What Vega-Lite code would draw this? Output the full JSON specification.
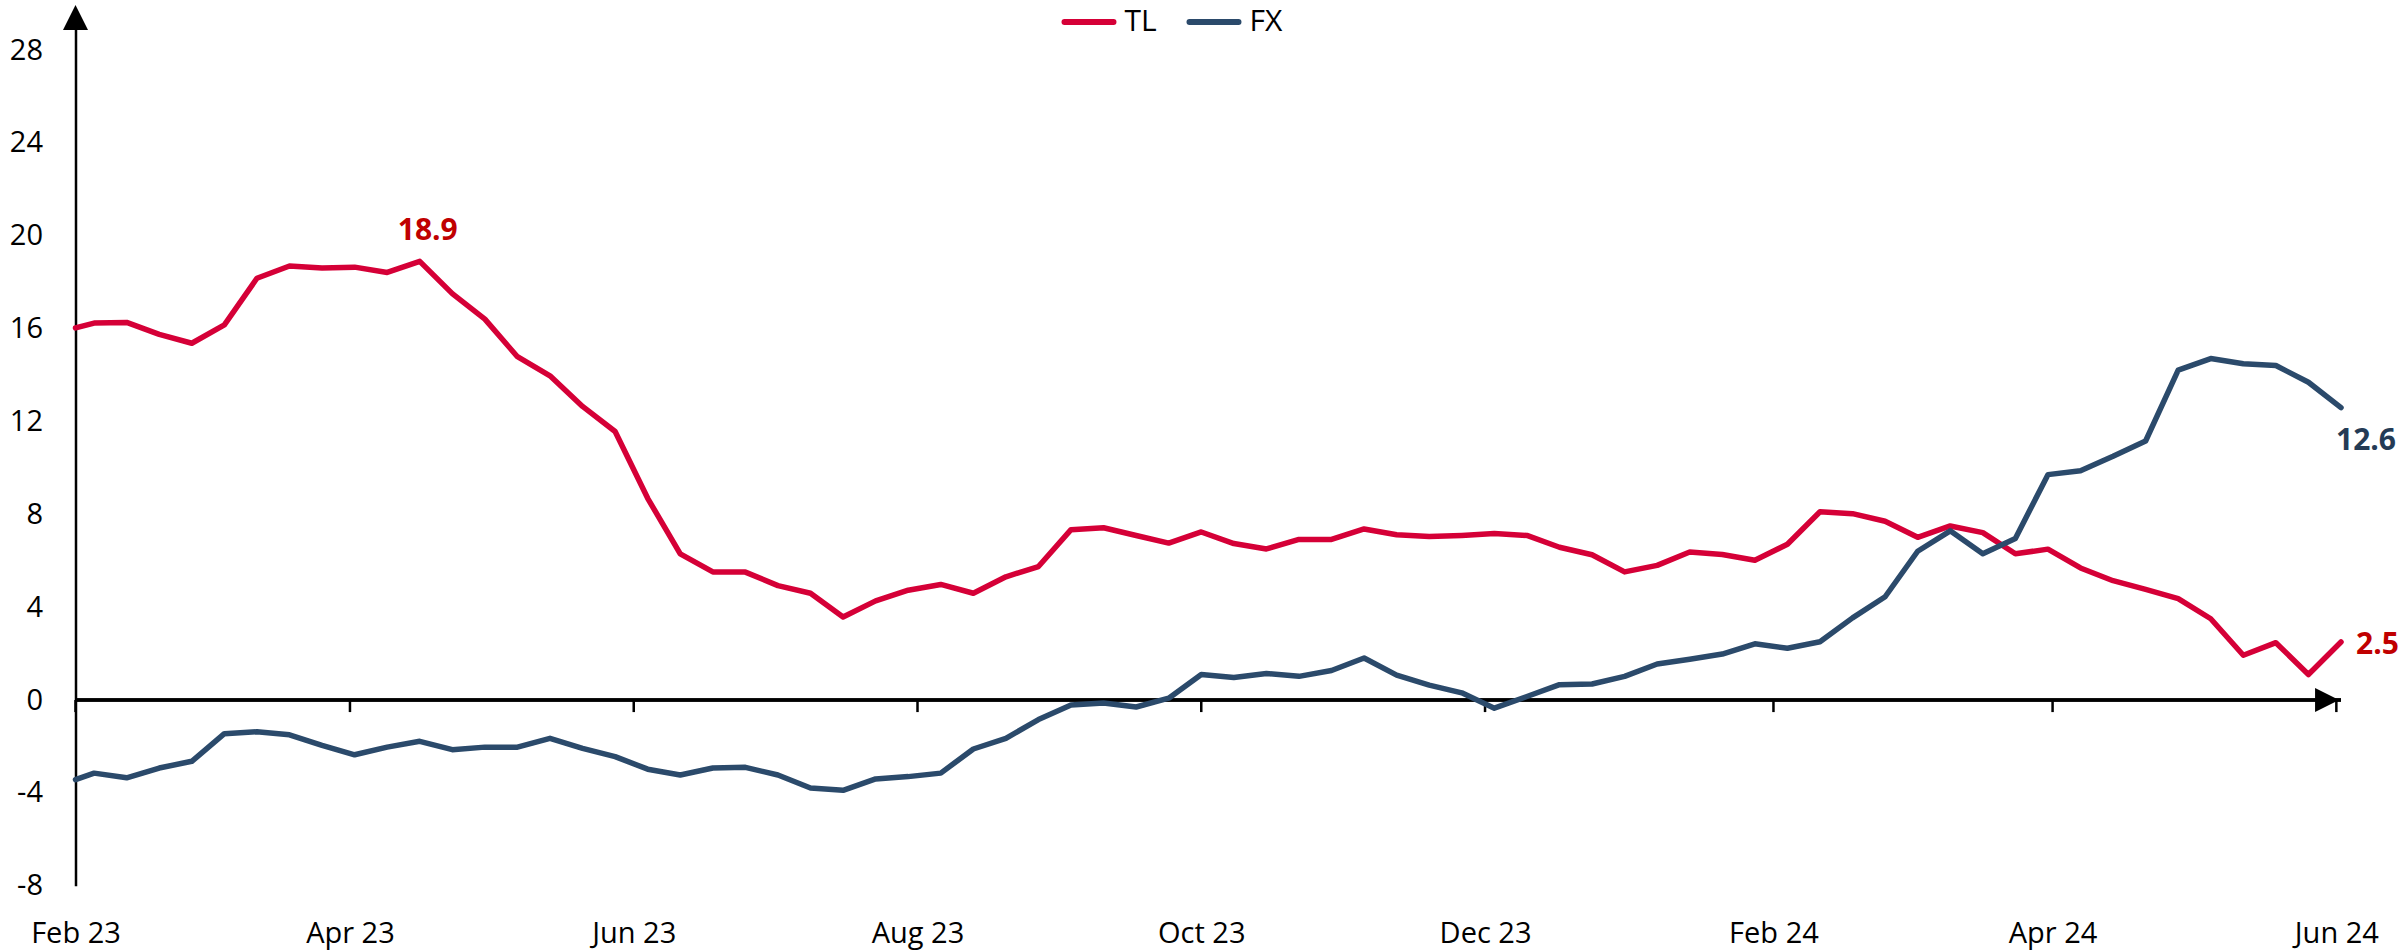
{
  "$schema": "https://vega.github.io/schema/vega-lite/v6.json",
  "width": 2265.5,
  "height": 870.4,
  "autosize": {"type": "none"},
  "padding": {"left": 75.5, "top": 15.3, "right": 59, "bottom": 65.3},
  "background": "white",
  "config": {"view": {"stroke": null}, "font": "Open Sans"},
  "datasets": {
    "series": [
      {"date": "2023-02-01", "TL": 16.03, "FX": -3.43},
      {"date": "2023-02-05", "TL": 16.24, "FX": -3.15},
      {"date": "2023-02-12", "TL": 16.27, "FX": -3.35},
      {"date": "2023-02-19", "TL": 15.75, "FX": -2.93},
      {"date": "2023-02-26", "TL": 15.37, "FX": -2.64},
      {"date": "2023-03-05", "TL": 16.16, "FX": -1.45},
      {"date": "2023-03-12", "TL": 18.17, "FX": -1.37},
      {"date": "2023-03-19", "TL": 18.70, "FX": -1.50},
      {"date": "2023-03-26", "TL": 18.61, "FX": -1.95},
      {"date": "2023-04-02", "TL": 18.65, "FX": -2.36},
      {"date": "2023-04-09", "TL": 18.42, "FX": -2.03},
      {"date": "2023-04-16", "TL": 18.9, "FX": -1.78},
      {"date": "2023-04-23", "TL": 17.51, "FX": -2.14},
      {"date": "2023-04-30", "TL": 16.41, "FX": -2.03},
      {"date": "2023-05-07", "TL": 14.79, "FX": -2.03},
      {"date": "2023-05-14", "TL": 13.97, "FX": -1.65},
      {"date": "2023-05-21", "TL": 12.65, "FX": -2.08},
      {"date": "2023-05-28", "TL": 11.57, "FX": -2.44},
      {"date": "2023-06-04", "TL": 8.69, "FX": -2.98},
      {"date": "2023-06-11", "TL": 6.30, "FX": -3.23},
      {"date": "2023-06-18", "TL": 5.52, "FX": -2.93},
      {"date": "2023-06-25", "TL": 5.51, "FX": -2.90},
      {"date": "2023-07-02", "TL": 4.93, "FX": -3.23},
      {"date": "2023-07-09", "TL": 4.60, "FX": -3.79},
      {"date": "2023-07-16", "TL": 3.58, "FX": -3.89},
      {"date": "2023-07-23", "TL": 4.27, "FX": -3.40},
      {"date": "2023-07-30", "TL": 4.73, "FX": -3.30},
      {"date": "2023-08-06", "TL": 4.98, "FX": -3.15},
      {"date": "2023-08-13", "TL": 4.60, "FX": -2.11},
      {"date": "2023-08-20", "TL": 5.31, "FX": -1.65},
      {"date": "2023-08-27", "TL": 5.75, "FX": -0.84},
      {"date": "2023-09-03", "TL": 7.34, "FX": -0.21},
      {"date": "2023-09-10", "TL": 7.42, "FX": -0.13},
      {"date": "2023-09-17", "TL": 7.09, "FX": -0.30},
      {"date": "2023-09-24", "TL": 6.76, "FX": 0.08},
      {"date": "2023-10-01", "TL": 7.24, "FX": 1.10},
      {"date": "2023-10-08", "TL": 6.74, "FX": 0.97},
      {"date": "2023-10-15", "TL": 6.51, "FX": 1.14},
      {"date": "2023-10-22", "TL": 6.92, "FX": 1.02},
      {"date": "2023-10-29", "TL": 6.92, "FX": 1.27},
      {"date": "2023-11-05", "TL": 7.37, "FX": 1.81},
      {"date": "2023-11-12", "TL": 7.12, "FX": 1.07},
      {"date": "2023-11-19", "TL": 7.04, "FX": 0.64},
      {"date": "2023-11-26", "TL": 7.09, "FX": 0.31},
      {"date": "2023-12-03", "TL": 7.17, "FX": -0.35},
      {"date": "2023-12-10", "TL": 7.09, "FX": 0.15},
      {"date": "2023-12-17", "TL": 6.58, "FX": 0.66},
      {"date": "2023-12-24", "TL": 6.26, "FX": 0.69},
      {"date": "2023-12-31", "TL": 5.52, "FX": 1.02},
      {"date": "2024-01-07", "TL": 5.80, "FX": 1.55},
      {"date": "2024-01-14", "TL": 6.38, "FX": 1.76},
      {"date": "2024-01-21", "TL": 6.27, "FX": 1.98},
      {"date": "2024-01-28", "TL": 6.02, "FX": 2.42},
      {"date": "2024-02-04", "TL": 6.71, "FX": 2.23},
      {"date": "2024-02-11", "TL": 8.11, "FX": 2.51},
      {"date": "2024-02-18", "TL": 8.03, "FX": 3.54},
      {"date": "2024-02-25", "TL": 7.70, "FX": 4.45},
      {"date": "2024-03-03", "TL": 7.01, "FX": 6.41},
      {"date": "2024-03-10", "TL": 7.50, "FX": 7.29},
      {"date": "2024-03-17", "TL": 7.21, "FX": 6.30},
      {"date": "2024-03-24", "TL": 6.30, "FX": 6.96},
      {"date": "2024-03-31", "TL": 6.50, "FX": 9.71},
      {"date": "2024-04-07", "TL": 5.69, "FX": 9.88},
      {"date": "2024-04-14", "TL": 5.14, "FX": 10.50},
      {"date": "2024-04-21", "TL": 4.77, "FX": 11.16},
      {"date": "2024-04-28", "TL": 4.37, "FX": 14.21},
      {"date": "2024-05-05", "TL": 3.50, "FX": 14.71},
      {"date": "2024-05-12", "TL": 1.93, "FX": 14.49},
      {"date": "2024-05-19", "TL": 2.47, "FX": 14.41},
      {"date": "2024-05-26", "TL": 1.10, "FX": 13.69},
      {"date": "2024-06-02", "TL": 2.5, "FX": 12.6}
    ],
    "ticks": [
      {"date": "2023-02-01"}, {"date": "2023-04-01"}, {"date": "2023-06-01"},
      {"date": "2023-08-01"}, {"date": "2023-10-01"}, {"date": "2023-12-01"},
      {"date": "2024-02-01"}, {"date": "2024-04-01"}, {"date": "2024-06-01"}
    ],
    "labels": [
      {"date": "2023-04-16", "series": "TL", "value": 18.9, "kind": "peak"},
      {"date": "2024-06-02", "series": "TL", "value": 2.5, "kind": "end"},
      {"date": "2024-06-02", "series": "FX", "value": 12.6, "kind": "end"}
    ],
    "arrows": [
      {"date": "2024-05-30", "value": 0, "dir": "right"},
      {"date": "2023-02-01", "value": 29.4, "dir": "up"}
    ]
  },
  "layer": [
    {
      "data": {"name": "ticks"},
      "mark": {"type": "rule", "color": "#000000", "strokeWidth": 2.5},
      "encoding": {
        "y": {"datum": 0, "type": "quantitative"}
      }
    },
    {
      "data": {"name": "ticks"},
      "mark": {"type": "rule", "color": "#000000", "strokeWidth": 2.5},
      "encoding": {
        "x": {"field": "date", "type": "temporal"},
        "y": {"datum": 0, "type": "quantitative"},
        "y2": {"datum": -0.52}
      }
    },
    {
      "data": {"name": "series"},
      "transform": [{"fold": ["TL", "FX"], "as": ["series", "value"]}],
      "mark": {"type": "line", "strokeWidth": 5.5, "strokeCap": "round", "strokeJoin": "round"},
      "encoding": {
        "x": {
          "field": "date",
          "type": "temporal",
          "scale": {
            "type": "utc",
            "domain": [
              {"year": 2023, "month": 2, "date": 1, "utc": true},
              {"year": 2024, "month": 6, "date": 2, "utc": true}
            ]
          },
          "axis": {
            "title": null,
            "format": "%b %y",
            "values": [
              {"year": 2023, "month": 2, "date": 1, "utc": true},
              {"year": 2023, "month": 4, "date": 1, "utc": true},
              {"year": 2023, "month": 6, "date": 1, "utc": true},
              {"year": 2023, "month": 8, "date": 1, "utc": true},
              {"year": 2023, "month": 10, "date": 1, "utc": true},
              {"year": 2023, "month": 12, "date": 1, "utc": true},
              {"year": 2024, "month": 2, "date": 1, "utc": true},
              {"year": 2024, "month": 4, "date": 1, "utc": true},
              {"year": 2024, "month": 6, "date": 1, "utc": true}
            ],
            "domain": false,
            "ticks": false,
            "tickSize": 0,
            "grid": false,
            "labelPadding": 34,
            "labelFontSize": 29,
            "labelFont": "Open Sans",
            "labelColor": "#000000",
            "labelFlush": false,
            "labelOverlap": false,
            "labelBound": false
          }
        },
        "y": {
          "field": "value",
          "type": "quantitative",
          "scale": {"domain": [-8, 29.5], "nice": false, "zero": false},
          "axis": {
            "title": null,
            "values": [-8, -4, 0, 4, 8, 12, 16, 20, 24, 28],
            "labelExpr": "datum.value < 0 ? '-' + abs(datum.value) : '' + datum.value",
            "domain": true,
            "domainColor": "#000000",
            "domainWidth": 2.5,
            "ticks": false,
            "tickSize": 0,
            "grid": false,
            "labelPadding": 33,
            "labelFontSize": 29,
            "labelFont": "Open Sans",
            "labelColor": "#000000"
          }
        },
        "color": {
          "field": "series",
          "type": "nominal",
          "scale": {"domain": ["TL", "FX"], "range": ["#D50037", "#2B4A6B"]},
          "sort": ["TL", "FX"],
          "legend": {
            "title": null,
            "orient": "none",
            "direction": "horizontal",
            "legendX": 986,
            "legendY": -21,
            "padding": 0,
            "symbolType": "stroke",
            "symbolSize": 2400,
            "symbolStrokeWidth": 6,
            "labelFontSize": 30,
            "labelFont": "Open Sans",
            "labelColor": "#000000",
            "labelOffset": 8,
            "columnPadding": 20,
            "encode": {"symbols": {"update": {"strokeCap": {"value": "round"}}}}
          }
        }
      }
    },
    {
      "data": {"name": "labels"},
      "transform": [{"filter": "datum.kind === 'peak'"}],
      "mark": {"type": "text", "font": "Open Sans", "fontWeight": "bold", "fontSize": 30, "color": "#C00000", "align": "center", "baseline": "alphabetic", "dx": 8, "dy": -21},
      "encoding": {
        "x": {"field": "date", "type": "temporal"},
        "y": {"field": "value", "type": "quantitative"},
        "text": {"field": "value", "type": "quantitative", "format": ".1f"}
      }
    },
    {
      "data": {"name": "labels"},
      "transform": [{"filter": "datum.kind === 'end' && datum.series === 'TL'"}],
      "mark": {"type": "text", "font": "Open Sans", "fontWeight": "bold", "fontSize": 30, "color": "#C00000", "align": "left", "baseline": "alphabetic", "dx": 15, "dy": 12},
      "encoding": {
        "x": {"field": "date", "type": "temporal"},
        "y": {"field": "value", "type": "quantitative"},
        "text": {"field": "value", "type": "quantitative", "format": ".1f"}
      }
    },
    {
      "data": {"name": "labels"},
      "transform": [{"filter": "datum.kind === 'end' && datum.series === 'FX'"}],
      "mark": {"type": "text", "font": "Open Sans", "fontWeight": "bold", "fontSize": 30, "color": "#243B55", "align": "left", "baseline": "alphabetic", "dx": -5, "dy": 42},
      "encoding": {
        "x": {"field": "date", "type": "temporal"},
        "y": {"field": "value", "type": "quantitative"},
        "text": {"field": "value", "type": "quantitative", "format": ".1f"}
      }
    },
    {
      "data": {"name": "arrows"},
      "transform": [{"filter": "datum.dir === 'right'"}],
      "mark": {"type": "point", "shape": "M-1,-1L1,0L-1,1Z", "filled": true, "color": "#000000", "opacity": 1, "size": 576},
      "encoding": {
        "x": {"field": "date", "type": "temporal"},
        "y": {"field": "value", "type": "quantitative"}
      }
    },
    {
      "data": {"name": "arrows"},
      "transform": [{"filter": "datum.dir === 'up'"}],
      "mark": {"type": "point", "shape": "M-1,1L0,-1L1,1Z", "filled": true, "color": "#000000", "opacity": 1, "size": 625},
      "encoding": {
        "x": {"field": "date", "type": "temporal"},
        "y": {"field": "value", "type": "quantitative"}
      }
    }
  ]
}
